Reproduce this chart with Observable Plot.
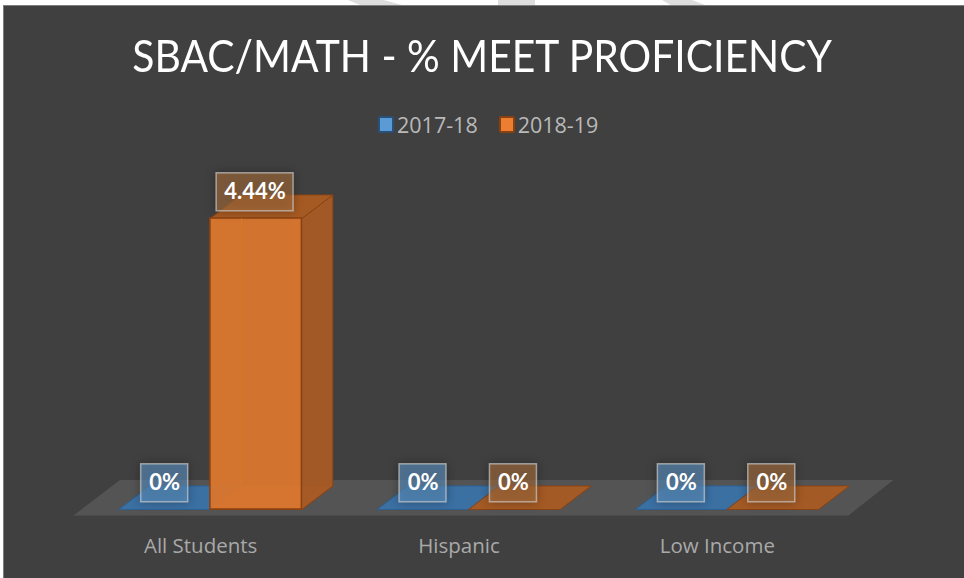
<!DOCTYPE html>
<html><head><meta charset="utf-8">
<script src="https://cdn.jsdelivr.net/npm/d3@7"></script>
<script src="https://cdn.jsdelivr.net/npm/@observablehq/plot@0.6"></script>
<style>
html,body{margin:0;padding:0;background:#fff;}
#page{position:relative;width:964px;height:578px;overflow:hidden;background:#fff;}
#panel{position:absolute;left:3px;top:5px;width:961px;height:573px;background:#404040;box-shadow:inset 1px 1px 0 #7c7c7c;}
.stripe{position:absolute;top:0;height:5px;background:#dedede;}
#title{position:absolute;left:0;width:964px;top:29px;text-align:center;font:400 44px Lato,sans-serif;color:#fff;white-space:nowrap;transform:scaleX(.928);transform-origin:483.5px 0;}
#legend{position:absolute;top:110px;left:378px;font:400 21.5px "Open Sans",sans-serif;color:#b9b9b9;white-space:nowrap;display:flex;align-items:center;}
#legend .sw{display:inline-block;width:12px;height:13px;margin-right:3px;border:2px solid;border-radius:2px;box-sizing:content-box;}
#legend .item{display:flex;align-items:center;margin-right:21px;}
#chart{position:absolute;left:0;top:150px;}
#chart svg{background:transparent;overflow:visible;}
.labelbox{filter:drop-shadow(0 0 5px rgba(0,0,0,.45));}
</style></head><body>
<div id="page">
  <div class="stripe" style="left:348px;width:54px;clip-path:polygon(0 0,66% 0,100% 100%,22% 100%)"></div>
  <div class="stripe" style="left:498px;width:37px"></div>
  <div class="stripe" style="left:662px;width:43px;clip-path:polygon(0 0,70% 0,100% 100%,20% 100%)"></div>
  <div id="panel"></div>
  <div id="title">SBAC/MATH - % MEET PROFICIENCY</div>
  <div id="legend"></div>
  <div id="chart"></div>
</div>
<script>
const categories = ["All Students", "Hispanic", "Low Income"];
const seriesNames = ["2017-18", "2018-19"];
const values2017 = [0, 0, 0];
const values2018 = [4.44, 0, 0];
const labels2017 = ["0%", "0%", "0%"];
const labels2018 = ["4.44%", "0%", "0%"];

const palette = {
  "2017-18": {front:"#4a86bf", top:"#3a72a8", side:"#33638f", edge:"#2b5f92", box:"#5d93c4", swatch:"#5b9bd5", swEdge:"#2a4f78"},
  "2018-19": {front:"#d7762f", top:"#a95b22", side:"#a65a25", edge:"#8a4112", box:"#a8703f", swatch:"#ed7d31", swEdge:"#8a4112"}
};

// geometry in scale units: groups along x, percent along y
const barWidth = 0.354, barStart = 0.176, depthX = 0.12, depthY = 0.36;
const rows = [];
categories.forEach((c, i) => {
  seriesNames.forEach((s, j) => {
    const v = (j === 0 ? values2017 : values2018)[i];
    const lab = (j === 0 ? labels2017 : labels2018)[i];
    const x1 = i + barStart + j * barWidth, x2 = x1 + barWidth;
    rows.push({cat:c, series:s, v, lab, x1, x2, xc:(x1 + x2) / 2 - 0.004 * j, id:`${i}-${j}`});
  });
});
const poly = (r, face) => {
  const {x1, x2, v, id} = r, dx = depthX, dy = depthY;
  const pts = face === "top" ? [[x1,v],[x2,v],[x2+dx,v+dy],[x1+dx,v+dy]]
            : face === "side" ? [[x2,0],[x2+dx,dy],[x2+dx,v+dy],[x2,v]]
            : face === "left" ? [[x1,0],[x1+dx,dy],[x1+dx,v+dy],[x1,v]]
            : [[x1+dx,dy],[x2+dx,dy],[x2,0],[x1,0]];
  return pts.map(([x, y]) => ({x, y, id, series:r.series}));
};
const colorOf = (key) => d => palette[d.series][key];
const faces = (rs, face) => rs.flatMap(r => poly(r, face));
const tall = rows.filter(r => r.v > 0);

const floor = [
  {x:0, y:-0.09},{x:3, y:-0.09},{x:3 + 0.174, y:0.45},{x:0.18, y:0.45}
];

const faceLine = (data, key, opacity) => Plot.line(data, {
  x:"x", y:"y", z:"id", curve:"linear-closed",
  fill:colorOf(key), fillOpacity:opacity,
  stroke:colorOf("edge"), strokeWidth:1, strokeOpacity:0.9
});

const boxHalfW = r => r.lab.length > 2 ? 0.149 : 0.091;

const plot = Plot.plot({
  width:964, height:428,
  marginLeft:73, marginRight:116, marginTop:0, marginBottom:63,
  x:{type:"linear", domain:[0,3], axis:null},
  y:{type:"linear", domain:[0,4.44], range:[359,68], axis:null},
  marks:[
    Plot.line(floor, {x:"x", y:"y", curve:"linear-closed", fill:"#545454", stroke:null}),
    faceLine(faces(tall,"left"), "side", 0.35),
    faceLine(faces(rows,"floor"), "top", 0.95),
    faceLine(faces(tall,"side"), "side", 0.97),
    faceLine(faces(tall,"top"), "top", 0.97),
    Plot.rect(tall, {x1:"x1", x2:"x2", y1:0, y2:"v",
      fill:colorOf("front"), fillOpacity:0.97, stroke:colorOf("edge"), strokeWidth:1.5}),
    Plot.ruleX(tall, {x:d => d.x1 + depthX, y1:0.36, y2:d => d.v, stroke:"#df7a2a", strokeOpacity:.55}),
    Plot.rect(rows, {
      x1:d => d.xc - boxHalfW(d), x2:d => d.xc + boxHalfW(d),
      y1:d => d.v + 0.11, y2:d => d.v + 0.69,
      fill:colorOf("box"), fillOpacity:0.62, stroke:"#d0d0d0", strokeOpacity:.65, strokeWidth:1.5,
      className:"labelbox"
    }),
    Plot.text(rows, {x:"xc", y:d => d.v + 0.40, text:"lab", fill:"#fff",
      fontFamily:"Lato", fontWeight:700, fontSize:22}),
    Plot.axisX({
      anchor:"bottom", ticks:categories.map((c,i) => i + 0.5),
      tickFormat:d => categories[d - 0.5], tickSize:0, tickPadding:23, dx:-2,
      fontSize:20.5, fontFamily:"Open Sans", color:"#a9a9a9", label:null
    })
  ]
});
document.getElementById("chart").appendChild(plot);

const legend = d3.select("#legend");
seriesNames.forEach(s => {
  const it = legend.append("span").attr("class","item");
  it.append("span").attr("class","sw").style("background",palette[s].swatch).style("border-color",palette[s].swEdge);
  it.append("span").text(s);
});
</script>
</body></html>
